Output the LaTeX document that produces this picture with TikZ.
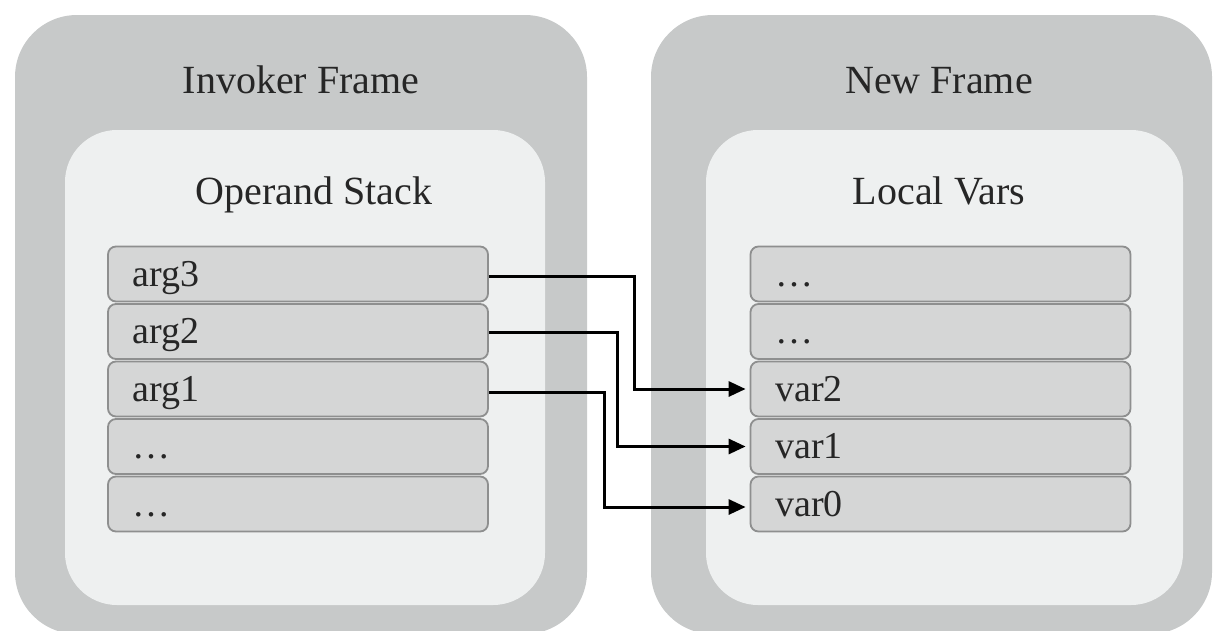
\documentclass[tikz,border=0pt]{standalone}
\usepackage{fontspec}
\setmainfont{Liberation Serif}
\usetikzlibrary{arrows.meta,calc}
\definecolor{outerc}{HTML}{C7C9C9}
\definecolor{innerc}{HTML}{EEF0F0}
\definecolor{cellc}{HTML}{D5D6D6}
\definecolor{celld}{HTML}{8E8F8F}
\definecolor{txt}{HTML}{262626}
\tikzset{
  cell/.style={fill=cellc, draw=celld, line width=1.8pt, rounded corners=8pt,
    minimum width=380pt, minimum height=55pt, inner sep=0pt},
  celltext/.style={font=\fontsize{38}{42}\selectfont, text=txt, anchor=base west},
  title/.style={font=\fontsize{40}{46}\selectfont, text=txt, anchor=base},
  conn/.style={draw=black, line width=3pt, -{Triangle[length=17pt,width=15pt]}}
}
\begin{document}
\begin{tikzpicture}[x=1pt,y=-1pt]
\useasboundingbox (0,0) rectangle (1214,630);
% frames
\fill[outerc, rounded corners=62pt] (15,15) rectangle (587,634);
\fill[innerc, rounded corners=52pt] (65,130) rectangle (545,605);
\fill[outerc, rounded corners=62pt] (651,15) rectangle (1212,634);
\fill[innerc, rounded corners=52pt] (706,130) rectangle (1183,605);
% titles
\node[title] (t1) at (301,93) {Invoker Frame};
\node[title] (t2) at (314,204) {Operand Stack};
\node[title] (t3) at (939,93) {New Frame};
\node[title] (t4) at (939,204) {Local Vars};
% cells left
\foreach \n/\y/\t in {a3/274/arg3, a2/331.5/arg2, a1/389/arg1, a0/446.5/\dots, am/504/\dots}{
  \node[cell] (\n) at (298,\y) {};
  \node[celltext] at ($(\n.west)+(22,12)$) {\t};
}
% cells right
\foreach \n/\y/\t in {vb/274/\dots, va/331.5/\dots, v2/389/var2, v1/446.5/var1, v0/504/var0}{
  \node[cell] (\n) at (940.5,\y) {};
  \node[celltext] at ($(\n.west)+(22,12)$) {\t};
}
% connectors
\draw[conn] ([yshift=-2pt]a3.east) -- ([xshift=146pt,yshift=-2pt]a3.east) |- ([xshift=-4pt]v2.west);
\draw[conn] ([yshift=-1pt]a2.east) -- ([xshift=129pt,yshift=-1pt]a2.east) |- ([xshift=-4pt]v1.west);
\draw[conn] ([yshift=-3pt]a1.east) -- ([xshift=116pt,yshift=-3pt]a1.east) |- ([xshift=-4pt,yshift=-3pt]v0.west);
\end{tikzpicture}
\end{document}
